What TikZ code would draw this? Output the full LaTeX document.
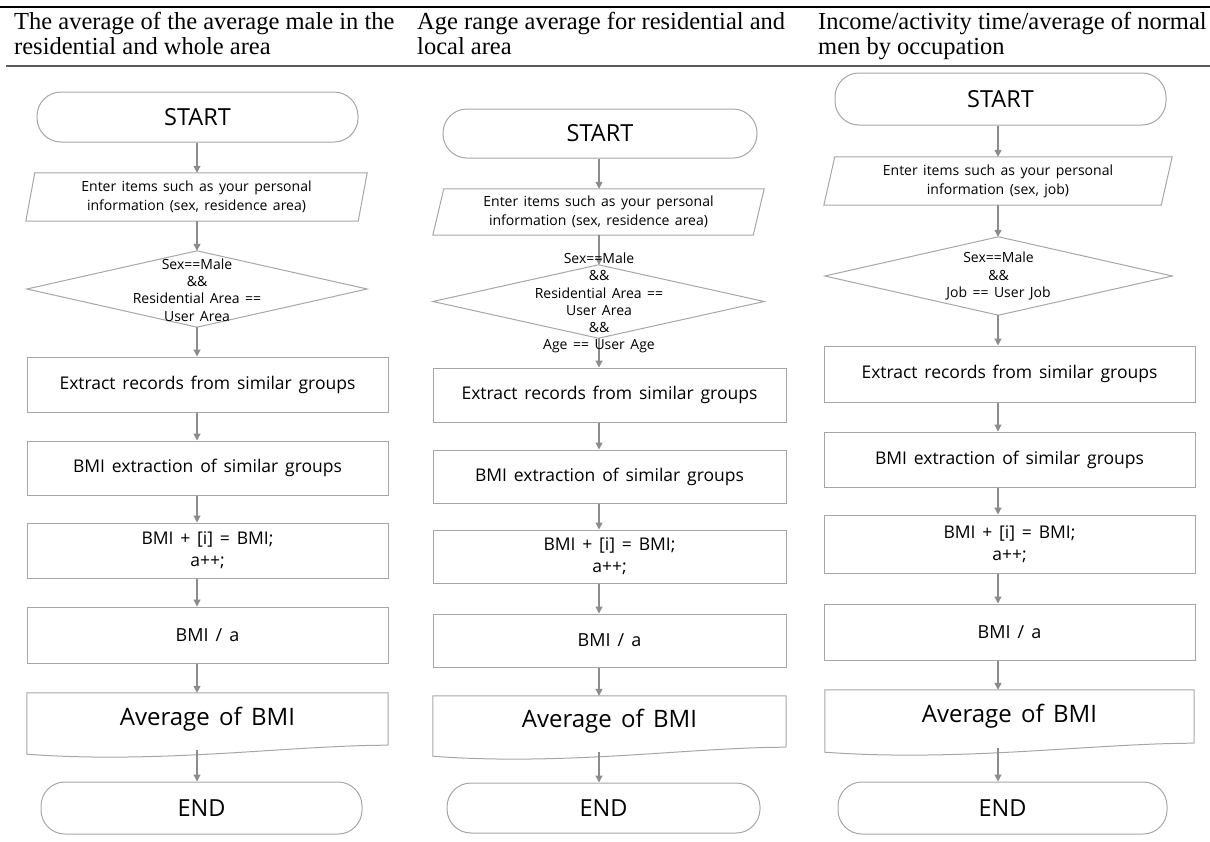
\documentclass[tikz,border=0pt]{standalone}
\usepackage{fontspec}
\setmainfont{Liberation Serif}
\newfontfamily\boxfont[WordSpace=1.5]{Open Sans}
\usetikzlibrary{arrows.meta}
\definecolor{shapeline}{HTML}{A6A6A6}
\definecolor{arrowline}{HTML}{8C8C8C}
\definecolor{rulegray}{HTML}{5A5A5A}
\begin{document}
\begin{tikzpicture}[x=1pt,y=-1pt,
  hdr/.style={inner sep=0pt, anchor=base west, font=\fontsize{24.5}{25}\selectfont},
  holder/.style={draw=none, inner sep=0pt, align=center},
  outline/.style={draw=shapeline, line width=1pt},
  term/.style={draw=shapeline, line width=1pt, rectangle, rounded corners=24pt, inner sep=0pt, font=\boxfont\fontsize{23.5}{26}\selectfont},
  proc/.style={draw=shapeline, line width=1pt, rectangle, inner sep=0pt, align=center, font=\boxfont\fontsize{17.5}{22}\selectfont},
  big/.style={font=\boxfont\fontsize{24}{26}\selectfont},
  iotext/.style={font=\boxfont\fontsize{14}{19}\selectfont},
  cond/.style={inner sep=0pt, align=center, font=\boxfont\fontsize{14}{17.2}\selectfont},
  arr/.style={draw=arrowline, line width=1.2pt, -{Triangle[length=7pt,width=7pt]}}]
\useasboundingbox (0,0) rectangle (1210,841);

% header
\draw[line width=1.6pt] (0,7) -- (1210,7);
\draw[rulegray, line width=2.4pt] (6,66) -- (1210,66);
\node[hdr] (h1a) at (14,29) {The average of the average male in the};
\node[hdr] (h1b) at (14,54) {residential and whole area};
\node[hdr] (h2a) at (417,29) {Age range average for residential and};
\node[hdr] (h2b) at (417,54) {local area};
\node[hdr] (h3a) at (818,29) {Income/activity time/average of normal};
\node[hdr] (h3b) at (818,54) {men by occupation};

\coordinate (c1) at (197,0);
\coordinate (c2) at (599,0);
\coordinate (c3) at (998,0);

% ---------- column 1 ----------
\node[term, minimum width=321, minimum height=50] (s1) at (197.5,117) {START};
\node[holder, iotext, minimum width=341, minimum height=48] (p1) at (196.5,197) {Enter items such as your personal\\information (sex, residence area)};
\draw[outline] ([xshift=9pt]p1.north west) -- (p1.north east) -- ([xshift=-9pt]p1.south east) -- (p1.south west) -- cycle;
\node[holder, minimum width=340, minimum height=76] (d1) at (197,289) {};
\draw[outline] (d1.north) -- (d1.east) -- (d1.south) -- (d1.west) -- cycle;
\node[cond] (d1t) at (197,290) {Sex==Male\\\&\&\\Residential Area ==\\User Area};
\node[proc, minimum width=361, minimum height=55] (r1a) at (207.5,384.5) {Extract records from similar groups};
\node[proc, minimum width=361, minimum height=54] (r1b) at (207.5,468) {BMI extraction of similar groups};
\node[proc, minimum width=361, minimum height=55] (r1c) at (207.5,550.5) {BMI + [i] = BMI;\\a++;};
\node[proc, minimum width=361, minimum height=56, font=\boxfont\fontsize{18}{22}\selectfont] (r1d) at (207.5,635) {BMI / a};
\node[holder, big, minimum width=361, minimum height=52] (a1) at (207.5,719) {Average of BMI};
\draw[outline] (a1.south east) -- (a1.north east) -- (a1.north west) -- ([yshift=-9pt]a1.south west)
  .. controls ([xshift=134pt,yshift=-19pt]a1.south west) and ([xshift=-97pt]a1.south east) .. (a1.south east);
\node[term, minimum width=321, minimum height=52] (e1) at (201.5,808) {END};
\draw[arr] (s1.south -| c1) -- (p1.north -| c1);
\draw[arr] (p1.south -| c1) -- (d1.north -| c1);
\draw[arr] (d1.south -| c1) -- (r1a.north -| c1);
\draw[arr] (r1a.south -| c1) -- (r1b.north -| c1);
\draw[arr] (r1b.south -| c1) -- (r1c.north -| c1);
\draw[arr] (r1c.south -| c1) -- (r1d.north -| c1);
\draw[arr] (r1d.south -| c1) -- (a1.north -| c1);
\draw[arr] ([yshift=-5pt]a1.south -| c1) -- (e1.north -| c1);

% ---------- column 2 ----------
\node[term, minimum width=314, minimum height=49] (s2) at (600,133.5) {START};
\node[holder, iotext, minimum width=331, minimum height=46] (p2) at (598.5,212) {Enter items such as your personal\\information (sex, residence area)};
\draw[outline] ([xshift=11pt]p2.north west) -- (p2.north east) -- ([xshift=-11pt]p2.south east) -- (p2.south west) -- cycle;
\node[holder, minimum width=331, minimum height=73] (d2) at (598.5,301.5) {};
\draw[outline] (d2.north) -- (d2.east) -- (d2.south) -- (d2.west) -- cycle;
\node[proc, minimum width=353, minimum height=54] (r2a) at (609.5,395) {Extract records from similar groups};
\node[proc, minimum width=353, minimum height=53] (r2b) at (609.5,476.5) {BMI extraction of similar groups};
\node[proc, minimum width=353, minimum height=53] (r2c) at (609.5,556.5) {BMI + [i] = BMI;\\a++;};
\node[proc, minimum width=353, minimum height=53, font=\boxfont\fontsize{18}{22}\selectfont] (r2d) at (609.5,640.5) {BMI / a};
\node[holder, big, minimum width=353, minimum height=51] (a2) at (609.5,721.5) {Average of BMI};
\draw[outline] (a2.south east) -- (a2.north east) -- (a2.north west) -- ([yshift=-9pt]a2.south west)
  .. controls ([xshift=131pt,yshift=-19pt]a2.south west) and ([xshift=-95pt]a2.south east) .. (a2.south east);
\node[term, minimum width=313, minimum height=50] (e2) at (603.5,808) {END};
\draw[arr] (s2.south -| c2) -- (p2.north -| c2);
\draw[arr] (p2.south -| c2) -- (d2.north -| c2);
\draw[arr] (d2.south -| c2) -- (r2a.north -| c2);
\draw[arr] (r2a.south -| c2) -- (r2b.north -| c2);
\draw[arr] (r2b.south -| c2) -- (r2c.north -| c2);
\draw[arr] (r2c.south -| c2) -- (r2d.north -| c2);
\draw[arr] (r2d.south -| c2) -- (a2.north -| c2);
\draw[arr] ([yshift=-5pt]a2.south -| c2) -- (e2.north -| c2);
\node[cond] (d2t) at (599,303) {Sex==Male\\\&\&\\Residential Area ==\\User Area\\\&\&\\Age == User Age};

% ---------- column 3 ----------
\node[term, minimum width=331, minimum height=52] (s3) at (1000.5,99) {START};
\node[holder, iotext, minimum width=348, minimum height=48] (p3) at (998,181) {Enter items such as your personal\\information (sex, job)};
\draw[outline] ([xshift=11pt]p3.north west) -- (p3.north east) -- ([xshift=-11pt]p3.south east) -- (p3.south west) -- cycle;
\node[holder, minimum width=347, minimum height=78] (d3) at (998.5,276) {};
\draw[outline] (d3.north) -- (d3.east) -- (d3.south) -- (d3.west) -- cycle;
\node[cond] (d3t) at (998.5,276) {Sex==Male\\\&\&\\Job == User Job};
\node[proc, minimum width=371, minimum height=56] (r3a) at (1009.5,374) {Extract records from similar groups};
\node[proc, minimum width=371, minimum height=55] (r3b) at (1009.5,459.5) {BMI extraction of similar groups};
\node[proc, minimum width=371, minimum height=58] (r3c) at (1009.5,544) {BMI + [i] = BMI;\\a++;};
\node[proc, minimum width=371, minimum height=56, font=\boxfont\fontsize{18}{22}\selectfont] (r3d) at (1009.5,632) {BMI / a};
\node[holder, big, minimum width=369, minimum height=53] (a3) at (1009.5,716.5) {Average of BMI};
\draw[outline] (a3.south east) -- (a3.north east) -- (a3.north west) -- ([yshift=-9pt]a3.south west)
  .. controls ([xshift=137pt,yshift=-19pt]a3.south west) and ([xshift=-100pt]a3.south east) .. (a3.south east);
\node[term, minimum width=329, minimum height=52] (e3) at (1002.5,808) {END};
\draw[arr] (s3.south -| c3) -- (p3.north -| c3);
\draw[arr] (p3.south -| c3) -- (d3.north -| c3);
\draw[arr] (d3.south -| c3) -- (r3a.north -| c3);
\draw[arr] (r3a.south -| c3) -- (r3b.north -| c3);
\draw[arr] (r3b.south -| c3) -- (r3c.north -| c3);
\draw[arr] (r3c.south -| c3) -- (r3d.north -| c3);
\draw[arr] (r3d.south -| c3) -- (a3.north -| c3);
\draw[arr] ([yshift=-5pt]a3.south -| c3) -- (e3.north -| c3);
\end{tikzpicture}
\end{document}
